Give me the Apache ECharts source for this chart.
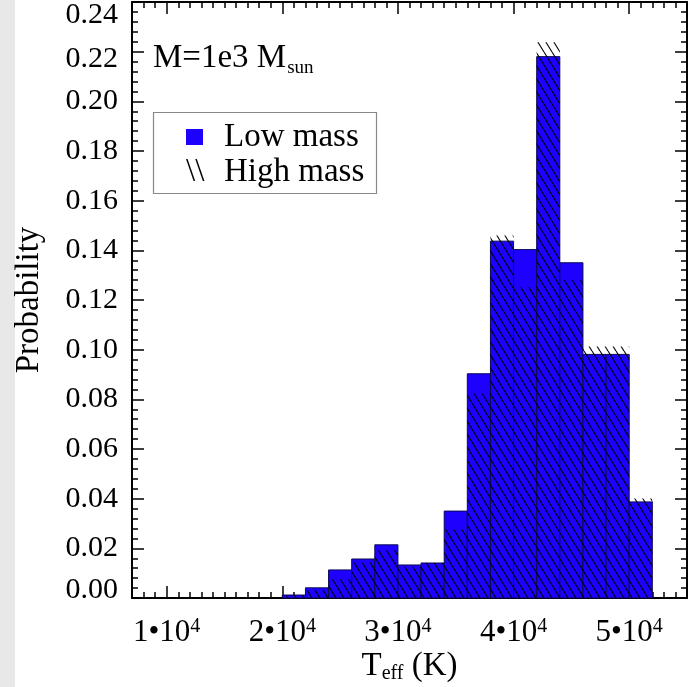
<!DOCTYPE html>
<html><head><meta charset="utf-8">
<script src="https://cdn.jsdelivr.net/npm/echarts@6/dist/echarts.min.js"></script>
<style>html,body{margin:0;padding:0;background:#fff}#c{width:693px;height:687px}</style>
</head><body><div id="c"></div>
<script>
// ---- data ----
const binStarts = [20000, 22000, 24000, 26000, 28000, 30000, 32000, 34000, 36000, 38000, 40000, 42000, 44000, 46000, 48000, 50000];
const binWidth = 2000;
const lowMass  = [0.0012, 0.0041, 0.0113, 0.0157, 0.0214, 0.0133, 0.0141, 0.0350, 0.0903, 0.1437, 0.1403, 0.2180, 0.1350, 0.0981, 0.0981, 0.0387];
const highMass = [0.0010, 0.0032, 0.0075, 0.0142, 0.0192, 0.0126, 0.0141, 0.0276, 0.0823, 0.1460, 0.1250, 0.2238, 0.1280, 0.1013, 0.1013, 0.0401];
const xMajorTicks = [10000, 20000, 30000, 40000, 50000];
const xTickMantissa = ['1', '2', '3', '4', '5'];
const yTickLabels = ['0.00','0.02','0.04','0.06','0.08','0.10','0.12','0.14','0.16','0.18','0.20','0.22','0.24'];
const xMin = 7000, xMax = 55000, yMin = 0, yMax = 0.24, yStep = 0.02;

const xMinorTicks = [];
for (let v = xMin; v <= xMax; v += 1000) xMinorTicks.push(v);

const FONT = 'Liberation Serif';
const BLUE = '#1e00ff';
const FS = 30;
const FL = 33;
const FSUB = 20;

function makeHatch() {
  const w = 8, h = 13;
  const c = document.createElement('canvas');
  c.width = w; c.height = h;
  const g = c.getContext('2d');
  g.strokeStyle = '#000'; g.lineWidth = 1.1;
  for (let k = -1; k <= 1; k++) { g.beginPath(); g.moveTo(k * w, 0); g.lineTo(k * w + w, h); g.stroke(); }
  return c;
}
const hatch = { image: makeHatch(), repeat: 'repeat' };

const mctx = document.createElement('canvas').getContext('2d');
function tw(s, size) { mctx.font = size + 'px "' + FONT + '"'; return mctx.measureText(s).width; }

const lowData = binStarts.map((s, i) => [s, s + binWidth, lowMass[i]]);
const highData = binStarts.map((s, i) => [s, s + binWidth, highMass[i]]);

function rectItem(api) {
  const p0 = api.coord([api.value(0), 0]);
  const p1 = api.coord([api.value(1), api.value(2)]);
  return { x: p0[0], y: p1[1], width: p1[0] - p0[0], height: p0[1] - p1[1] };
}

const chart = echarts.init(document.getElementById('c'), null, { renderer: 'canvas' });
const lineStyle = { color: '#000', width: 2 };
const labelShift = { '0.24': 't2', '0.22': 't1', '0.00': 'b1' };

function xAxisDef(pos, major) {
  return {
    type: 'value', min: xMin, max: xMax, position: pos,
    axisLine: { show: major, onZero: false, lineStyle: lineStyle },
    axisTick: { show: true, inside: true, length: major ? 12 : 6, customValues: major ? xMajorTicks : xMinorTicks, lineStyle: { color: '#000', width: 1.5 } },
    axisLabel: (major && pos === 'bottom') ? {
      customValues: xMajorTicks, margin: 19,
      formatter: v => '{b|' + xTickMantissa[xMajorTicks.indexOf(v)] + '•10}{s|4}',
      rich: {
        b: { fontFamily: FONT, fontSize: 31, color: '#000', verticalAlign: 'top', lineHeight: 31 },
        s: { fontFamily: FONT, fontSize: 20, color: '#000', verticalAlign: 'top', lineHeight: 31 }
      }
    } : { show: false },
    splitLine: { show: false }
  };
}
function yAxisDef(pos) {
  const left = pos === 'left';
  return {
    type: 'value', min: yMin, max: yMax, interval: yStep, position: pos,
    axisLine: { show: true, onZero: false, lineStyle: lineStyle },
    axisTick: { show: true, inside: true, length: 12, lineStyle: { color: '#000', width: 1.5 } },
    minorTick: { show: true, splitNumber: 5, length: 6, lineStyle: { color: '#000', width: 1.5 } },
    axisLabel: left ? {
      margin: 14,
      formatter: v => { const t = yTickLabels[Math.round(v / yStep)]; const k = labelShift[t]; return k ? '{' + k + '|' + t + '}' : '{n|' + t + '}'; },
      rich: {
        n: { fontFamily: FONT, fontSize: FS, color: '#000' },
        t2: { fontFamily: FONT, fontSize: FS, color: '#000', padding: [26, 0, 0, 0] },
        t1: { fontFamily: FONT, fontSize: FS, color: '#000', padding: [14, 0, 0, 0] },
        b1: { fontFamily: FONT, fontSize: FS, color: '#000', padding: [0, 0, 16, 0] }
      }
    } : { show: false },
    splitLine: { show: false },
    name: left ? 'Probability' : '', nameLocation: 'middle', nameGap: 86,
    nameTextStyle: { fontFamily: FONT, fontSize: FL, color: '#000' }
  };
}

const xa = [xAxisDef('bottom', true), xAxisDef('bottom', false), xAxisDef('top', true), xAxisDef('top', false)];

// x title pieces (centred under the plot)
const xt1 = 'T', xt2 = 'eff', xt3 = ' (K)';
const w1 = tw(xt1, FL), w2 = tw(xt2, FSUB), w3 = tw(xt3, FL);
const xTitleLeft = 132 + 555 / 2 - (w1 + w2 + w3) / 2;
const mMain = 'M=1e3 M', mSub = 'sun';
const wM = tw(mMain, FL);

function txt(x, y, s, size) {
  return { type: 'text', x: x, y: y, z: 11, style: { text: s, fontFamily: FONT, fontSize: size, fill: '#000', verticalAlign: 'top' } };
}

chart.setOption({
  animation: false,
  backgroundColor: '#fff',
  grid: { left: 132, top: 2, width: 555, height: 596, containLabel: false, outerBoundsMode: 'none' },
  xAxis: xa,
  yAxis: [yAxisDef('left'), yAxisDef('right')],
  series: [
    { name: 'Low mass', type: 'custom', xAxisIndex: 0, yAxisIndex: 0, data: lowData, z: 2,
      renderItem: (p, api) => ({ type: 'rect', shape: rectItem(api), style: { fill: BLUE, stroke: '#0a0a50', lineWidth: 1 } }) },
    { name: 'High mass', type: 'custom', xAxisIndex: 0, yAxisIndex: 0, data: highData, z: 3,
      renderItem: (p, api) => ({ type: 'rect', shape: rectItem(api), style: { fill: hatch, stroke: null } }) }
  ],
  graphic: [
    { type: 'rect', left: 0, top: 0, shape: { width: 15, height: 687 }, style: { fill: '#e8e8e8' }, silent: true },
    { type: 'rect', shape: { x: 153.5, y: 112.5, width: 223, height: 81 }, style: { fill: '#fff', stroke: '#888', lineWidth: 1.2 }, z: 10 },
    { type: 'rect', shape: { x: 186, y: 129, width: 17, height: 16 }, style: { fill: BLUE }, z: 11 },
    { type: 'text', x: 186, y: 172, style: { text: '\\\\', fontFamily: FONT, fontSize: FL, fill: '#000', verticalAlign: 'middle' }, z: 11 },
    { type: 'text', x: 224, y: 137, style: { text: 'Low mass', fontFamily: FONT, fontSize: FL, fill: '#000', verticalAlign: 'middle' }, z: 11 },
    { type: 'text', x: 224, y: 172, style: { text: 'High mass', fontFamily: FONT, fontSize: FL, fill: '#000', verticalAlign: 'middle' }, z: 11 },
    txt(153, 42, mMain, FL),
    txt(153 + wM + 1, 59, mSub, 19),
    txt(xTitleLeft, 650, xt1, FL),
    txt(xTitleLeft + w1, 664, xt2, FSUB),
    txt(xTitleLeft + w1 + w2, 650, xt3, FL)
  ]
});
</script></body></html>
